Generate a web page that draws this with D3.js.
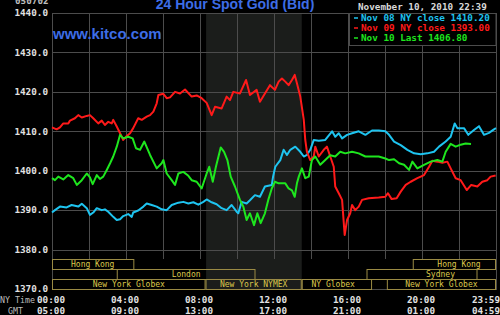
<!DOCTYPE html>
<html>
<head>
<meta charset="utf-8">
<script src="https://cdn.jsdelivr.net/npm/d3@7"></script>
<style>
  html, body { margin: 0; padding: 0; background: #000; }
  svg { display: block; }
</style>
</head>
<body>
<div id="chart"></div>
<script>
// hours are NY time, 0..24
const nov08Hours = [0, 0.16, 0.43, 0.79, 1.06, 1.42, 1.61, 1.88, 2.05, 2.23, 2.42, 2.69, 2.86, 3.04, 3.31, 3.5, 3.68, 3.85, 4.12, 4.31, 4.39, 4.66, 4.94, 5.12, 5.39, 5.66, 5.93, 6.2, 6.47, 6.83, 7.1, 7.37, 7.64, 7.91, 8.18, 8.36, 8.63, 8.9, 9.17, 9.44, 9.71, 9.98, 10.07, 10.25, 10.52, 10.7, 10.97, 11.24, 11.51, 11.88, 11.95, 12.07, 12.34, 12.52, 12.7, 12.88, 13.15, 13.42, 13.61, 13.78, 13.96, 14.15, 14.42, 14.77, 15.14, 15.31, 15.5, 15.68, 15.95, 16.22, 16.58, 16.94, 17.3, 17.66, 18.02, 18.22, 18.49, 18.85, 19.21, 19.57, 19.93, 20.29, 20.65, 20.92, 21.28, 21.55, 21.77, 21.91, 22.27, 22.5, 22.81, 23.08, 23.35, 23.62, 23.89, 24];
const nov08Values = [1389.4, 1390.0, 1390.9, 1390.7, 1391.3, 1390.9, 1391.6, 1390.5, 1388.8, 1389.4, 1390.5, 1390.0, 1390.2, 1389.6, 1388.3, 1387.5, 1387.7, 1388.5, 1389.0, 1388.3, 1389.4, 1389.9, 1390.9, 1391.7, 1391.3, 1390.9, 1390.2, 1390.0, 1391.3, 1391.9, 1392.1, 1391.7, 1392.0, 1391.4, 1392.1, 1392.7, 1392.0, 1391.5, 1390.5, 1390.0, 1391.3, 1389.6, 1389.2, 1392.1, 1391.7, 1392.5, 1393.8, 1393.4, 1396.0, 1396.4, 1398.5, 1401.0, 1402.7, 1405.3, 1404.0, 1405.3, 1406.1, 1404.8, 1403.6, 1404.0, 1405.3, 1407.8, 1407.6, 1407.8, 1410.0, 1408.6, 1409.5, 1408.2, 1409.1, 1409.5, 1410.0, 1409.1, 1410.2, 1410.2, 1410.0, 1409.1, 1407.4, 1406.5, 1405.3, 1404.4, 1404.2, 1404.4, 1404.8, 1406.1, 1407.4, 1408.6, 1412.0, 1410.8, 1410.8, 1409.1, 1410.3, 1411.3, 1409.1, 1409.6, 1410.5, 1410.8];

const nov09Hours = [0, 0.25, 0.43, 0.61, 0.88, 0.97, 1.24, 1.42, 1.61, 1.88, 2.05, 2.23, 2.5, 2.69, 2.86, 3.04, 3.23, 3.31, 3.5, 3.68, 3.85, 4.0, 4.22, 4.39, 4.66, 4.85, 5.12, 5.3, 5.48, 5.66, 5.75, 6.02, 6.2, 6.38, 6.65, 6.92, 7.19, 7.55, 7.82, 8.09, 8.36, 8.63, 8.81, 9.17, 9.44, 9.62, 9.8, 10.16, 10.49, 10.7, 11.06, 11.24, 11.51, 11.78, 12.05, 12.25, 12.43, 12.61, 12.79, 12.97, 13.12, 13.24, 13.42, 13.61, 13.69, 13.78, 13.96, 14.15, 14.23, 14.42, 14.69, 14.86, 15.04, 15.23, 15.31, 15.5, 15.68, 15.82, 15.95, 16.12, 16.22, 16.39, 16.58, 16.76, 17.12, 17.66, 18.02, 18.16, 18.36, 18.63, 18.85, 19.12, 19.39, 19.75, 20.11, 20.38, 20.56, 20.83, 21.1, 21.37, 21.55, 21.82, 22.09, 22.42, 22.66, 22.99, 23.26, 23.53, 23.71, 23.98];
const nov09Values = [1411.0, 1410.5, 1411.0, 1412.0, 1412.0, 1412.7, 1413.3, 1414.1, 1413.5, 1413.9, 1414.1, 1413.3, 1412.0, 1412.7, 1411.6, 1412.4, 1412.0, 1412.9, 1411.2, 1409.5, 1407.8, 1408.6, 1409.5, 1410.8, 1413.3, 1412.9, 1413.7, 1414.1, 1415.0, 1417.1, 1419.2, 1419.5, 1418.4, 1418.6, 1420.0, 1419.6, 1420.6, 1418.8, 1419.1, 1418.4, 1417.2, 1414.1, 1416.2, 1415.8, 1418.8, 1417.9, 1420.0, 1419.6, 1423.0, 1419.2, 1420.5, 1417.5, 1419.6, 1421.7, 1420.5, 1422.6, 1423.4, 1422.6, 1421.7, 1423.0, 1424.3, 1422.2, 1418.8, 1412.9, 1407.8, 1404.8, 1402.7, 1403.6, 1406.1, 1403.6, 1405.3, 1406.1, 1403.6, 1401.0, 1396.0, 1394.3, 1392.6, 1383.7, 1387.5, 1389.2, 1391.3, 1390.0, 1390.9, 1392.6, 1393.0, 1393.2, 1393.4, 1394.3, 1392.8, 1393.0, 1394.7, 1396.4, 1397.2, 1398.1, 1398.9, 1401.0, 1402.5, 1402.3, 1402.0, 1402.3, 1400.6, 1398.1, 1397.6, 1395.1, 1396.4, 1396.0, 1397.2, 1397.6, 1398.5, 1398.8];

const nov10Hours = [0, 0.16, 0.34, 0.61, 0.88, 1.15, 1.34, 1.61, 1.88, 2.05, 2.2, 2.42, 2.59, 2.77, 2.96, 3.14, 3.31, 3.5, 3.68, 3.85, 4.12, 4.36, 4.54, 4.76, 4.99, 5.3, 5.66, 5.93, 6.02, 6.2, 6.47, 6.65, 6.83, 7.1, 7.37, 7.55, 7.82, 8.09, 8.36, 8.5, 8.69, 8.86, 9.12, 9.3, 9.48, 9.66, 9.89, 10.16, 10.34, 10.52, 10.7, 10.92, 11.1, 11.28, 11.51, 11.69, 11.88, 12.05, 12.25, 12.61, 12.79, 12.97, 13.12, 13.24, 13.34, 13.51, 13.69, 13.88, 14.05, 14.23, 14.5, 14.77, 15.04, 15.31, 15.58, 15.85, 16.22, 16.58, 16.94, 17.3, 17.66, 18.02, 18.22, 18.49, 18.76, 19.03, 19.3, 19.48, 19.75, 20.11, 20.47, 20.83, 21.1, 21.28, 21.55, 21.82, 22.09, 22.36, 22.65];
const nov10Values = [1398.1, 1397.6, 1398.5, 1397.8, 1398.9, 1398.1, 1396.4, 1397.6, 1399.3, 1398.3, 1396.6, 1398.9, 1397.9, 1398.5, 1400.2, 1401.9, 1403.6, 1406.1, 1409.1, 1408.2, 1408.6, 1408.2, 1405.7, 1405.3, 1407.4, 1404.0, 1400.6, 1401.9, 1402.7, 1399.3, 1397.6, 1396.4, 1399.3, 1399.7, 1398.7, 1397.6, 1397.2, 1395.5, 1399.3, 1401.0, 1397.2, 1401.0, 1405.9, 1404.8, 1402.7, 1398.5, 1396.0, 1392.6, 1390.9, 1387.5, 1389.2, 1386.2, 1389.2, 1386.7, 1389.2, 1392.6, 1395.5, 1397.2, 1396.8, 1396.8, 1395.5, 1395.0, 1393.4, 1396.8, 1398.5, 1400.6, 1398.1, 1398.5, 1402.7, 1403.6, 1401.5, 1402.7, 1403.9, 1403.6, 1404.8, 1404.4, 1404.8, 1404.4, 1403.6, 1403.6, 1403.6, 1403.1, 1402.7, 1402.9, 1401.9, 1401.5, 1400.2, 1402.3, 1400.6, 1401.5, 1402.3, 1402.7, 1402.3, 1404.8, 1406.8, 1406.1, 1406.6, 1406.9, 1406.8];

const seriesNames = ["Nov 08 NY close 1410.20", "Nov 09 NY close 1393.00", "Nov 10 Last 1406.80"];
const seriesColors = ["#1ec4f0", "#ff1a1a", "#1ee61e"];

const yTicks = [1370, 1380, 1390, 1400, 1410, 1420, 1430, 1440];
const xTicks = [0, 4, 8, 12, 16, 20, 24];
const nyLabels = ["00:00", "04:00", "08:00", "12:00", "16:00", "20:00", "23:59"];
const gmtLabels = ["05:00", "09:00", "13:00", "17:00", "21:00", "01:00", "04:59"];

const nymexHours = [8.33, 13.5];

// trading sessions: row, start, end, label, label centre
const sessionRows = [0, 0, 1, 1, 2, 2, 2, 2];
const sessionStart = [0, 19.5, 3.5, 17, 0, 8.3, 13.5, 18.1];
const sessionEnd = [4.45, 24, 11, 23, 8.3, 13.5, 17.3, 24];
const sessionLabels = ["Hong Kong", "Hong Kong", "London", "Sydney", "New York Globex", "New York NYMEX", "NY Globex", "New York Globex"];
const sessionLabelAt = [2.2, 22.0, 7.25, 21.0, 4.15, 10.9, 15.2, 21.05];

const W = 500, H = 315;
const plotLeft = 52, plotRight = 496, plotTop = 13, plotBottom = 289, bandTop = 259, rowH = 10;
const mono = "'DejaVu Sans Mono', monospace";

const svg = d3.select("#chart").append("svg")
  .attr("width", W).attr("height", H)
  .style("background", "#000");

const x = d3.scaleLinear().domain([0, 24]).range([plotLeft, plotRight]);
const y = d3.scaleLinear().domain([1370, 1440]).range([plotBottom, plotTop]);

// NYMEX shading
svg.append("rect")
  .attr("x", x(nymexHours[0])).attr("y", plotTop)
  .attr("width", x(nymexHours[1]) - x(nymexHours[0]))
  .attr("height", plotBottom - plotTop)
  .attr("fill", "#1b1d1b");

// grid
const gridColor = "#4c4c4c";
svg.selectAll(".vgrid")
  .data(d3.range(2, 24, 2))
  .enter().append("line")
  .attr("x1", (d) => x(d) + 0.5).attr("x2", (d) => x(d) + 0.5)
  .attr("y1", plotTop).attr("y2", bandTop)
  .attr("stroke", gridColor);

svg.selectAll(".hgrid")
  .data(yTicks.filter((d) => d > 1370 && d < 1440))
  .enter().append("line")
  .attr("x1", plotLeft).attr("x2", plotRight)
  .attr("y1", (d) => Math.round(y(d)) + 0.5).attr("y2", (d) => Math.round(y(d)) + 0.5)
  .attr("stroke", gridColor);

svg.append("rect")
  .attr("x", plotLeft + 0.5).attr("y", plotTop + 0.5)
  .attr("width", plotRight - plotLeft).attr("height", plotBottom - plotTop)
  .attr("fill", "none").attr("stroke", gridColor);

// y labels
svg.selectAll(".ylab")
  .data(yTicks)
  .enter().append("text")
  .attr("x", 48).attr("y", (d) => y(d))
  .attr("dy", "0.35em")
  .attr("text-anchor", "end")
  .attr("fill", "#e2e2e2")
  .style("font-family", mono).style("font-size", "9.3px").style("font-weight", "bold")
  .text((d) => d.toFixed(1));

// series lines
const allHours = [nov08Hours, nov09Hours, nov10Hours];
const allValues = [nov08Values, nov09Values, nov10Values];
const line = d3.line().x((d) => x(d[0])).y((d) => y(d[1]));

allHours.forEach((hours, i) => {
  const pts = hours.map((h, j) => [h, allValues[i][j]]);
  svg.append("path")
    .datum(pts)
    .attr("d", line)
    .attr("fill", "none")
    .attr("stroke", seriesColors[i])
    .attr("stroke-width", 2)
    .attr("stroke-linejoin", "round");
});

// session band
const sessions = sessionLabels.map((label, i) => ({
  label, row: sessionRows[i], start: sessionStart[i], end: sessionEnd[i], at: sessionLabelAt[i]
}));

const sess = svg.selectAll(".sess")
  .data(sessions)
  .enter().append("g");

sess.append("rect")
  .attr("x", (d) => x(d.start) + 0.5)
  .attr("y", (d) => bandTop + d.row * rowH + 0.5)
  .attr("width", (d) => x(d.end) - x(d.start) - 1)
  .attr("height", rowH)
  .attr("fill", "none")
  .attr("stroke", "#9a8a44");

sess.append("text")
  .attr("x", (d) => x(d.at))
  .attr("y", (d) => bandTop + d.row * rowH + rowH - 2)
  .attr("text-anchor", "middle")
  .attr("fill", "#dcc84c")
  .style("font-family", mono).style("font-size", "8px")
  .text((d) => d.label);

// x labels
svg.selectAll(".nylab")
  .data(xTicks)
  .enter().append("text")
  .attr("x", (d, i) => (i === xTicks.length - 1 ? 500 : x(d) - 1))
  .attr("y", 302.5)
  .attr("text-anchor", (d, i) => (i === xTicks.length - 1 ? "end" : "middle"))
  .attr("fill", "#e2e2e2")
  .style("font-family", mono).style("font-size", "9.3px").style("font-weight", "bold")
  .text((d, i) => nyLabels[i]);

svg.selectAll(".gmtlab")
  .data(xTicks)
  .enter().append("text")
  .attr("x", (d, i) => (i === xTicks.length - 1 ? 500 : x(d) - 1))
  .attr("y", 314)
  .attr("text-anchor", (d, i) => (i === xTicks.length - 1 ? "end" : "middle"))
  .attr("fill", "#e2e2e2")
  .style("font-family", mono).style("font-size", "9.3px").style("font-weight", "bold")
  .text((d, i) => gmtLabels[i]);

svg.append("text")
  .attr("x", 0).attr("y", 303)
  .attr("fill", "#bdbdbd")
  .style("font-family", mono).style("font-size", "8.3px")
  .text("NY Time");

svg.append("text")
  .attr("x", 8).attr("y", 314)
  .attr("fill", "#bdbdbd")
  .style("font-family", mono).style("font-size", "8.3px")
  .text("GMT");

// header
svg.append("text")
  .attr("x", 15).attr("y", 4)
  .attr("fill", "#bdbdbd")
  .style("font-family", mono).style("font-size", "9.3px").style("font-weight", "bold")
  .text("050702");

svg.append("text")
  .attr("x", 235).attr("y", 9)
  .attr("text-anchor", "middle")
  .attr("fill", "#3d6de6")
  .style("font-family", "'Liberation Sans', Arial, sans-serif")
  .style("font-size", "14px").style("font-weight", "bold")
  .text("24 Hour Spot Gold (Bid)");

svg.append("text")
  .attr("x", 358).attr("y", 9.5)
  .attr("fill", "#d8d8d8")
  .style("font-family", mono).style("font-size", "9.3px").style("font-weight", "bold")
  .text("November 10, 2010 22:39");

svg.append("text")
  .attr("x", 53).attr("y", 39)
  .attr("fill", "#3d6de6")
  .style("font-family", "'Liberation Sans', Arial, sans-serif")
  .style("font-size", "15px").style("font-weight", "bold")
  .text("www.kitco.com");

// legend
svg.append("rect")
  .attr("x", 349.5).attr("y", plotTop + 0.5)
  .attr("width", plotRight - 349.5).attr("height", 32)
  .attr("fill", "#000").attr("stroke", gridColor);

const legend = svg.selectAll(".legend")
  .data(seriesNames)
  .enter().append("g")
  .attr("transform", (d, i) => `translate(0, ${21 + i * 10})`);

legend.append("line")
  .attr("x1", 354).attr("x2", 358)
  .attr("y1", -3).attr("y2", -3)
  .attr("stroke", (d, i) => seriesColors[i])
  .attr("stroke-width", 1.5);

legend.append("text")
  .attr("x", 361).attr("y", 0)
  .attr("fill", (d, i) => seriesColors[i])
  .style("font-family", mono).style("font-size", "9.3px").style("font-weight", "bold")
  .text((d) => d);
</script>
</body>
</html>
